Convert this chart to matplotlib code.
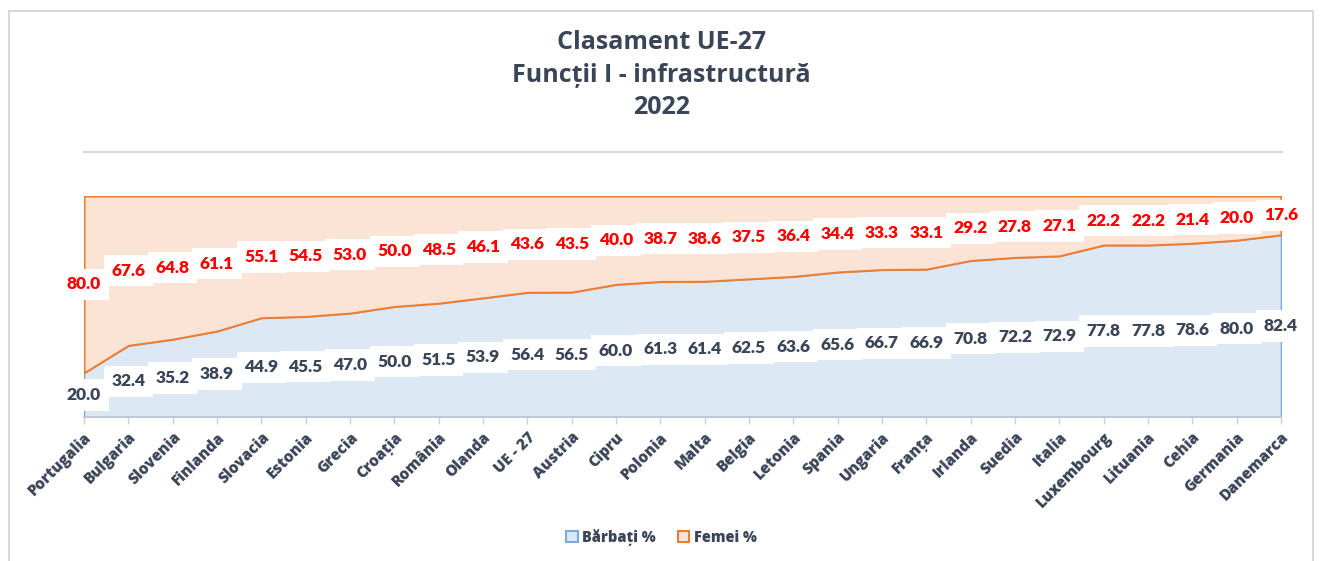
import matplotlib
matplotlib.use("Agg")
import matplotlib.pyplot as plt
from matplotlib.patches import Rectangle, Patch
from matplotlib.lines import Line2D

tari = ["Portugalia", "Bulgaria", "Slovenia", "Finlanda", "Slovacia", "Estonia",
        "Grecia", "Croația", "România", "Olanda", "UE - 27", "Austria", "Cipru",
        "Polonia", "Malta", "Belgia", "Letonia", "Spania", "Ungaria", "Franța",
        "Irlanda", "Suedia", "Italia", "Luxembourg", "Lituania", "Cehia",
        "Germania", "Danemarca"]
barbati = [20.0, 32.4, 35.2, 38.9, 44.9, 45.5, 47.0, 50.0, 51.5, 53.9, 56.4, 56.5,
           60.0, 61.3, 61.4, 62.5, 63.6, 65.6, 66.7, 66.9, 70.8, 72.2, 72.9, 77.8,
           77.8, 78.6, 80.0, 82.4]
femei = [80.0, 67.6, 64.8, 61.1, 55.1, 54.5, 53.0, 50.0, 48.5, 46.1, 43.6, 43.5,
         40.0, 38.7, 38.6, 37.5, 36.4, 34.4, 33.3, 33.1, 29.2, 27.8, 27.1, 22.2,
         22.2, 21.4, 20.0, 17.6]

text_col = "#3a4558"
blue_fill, blue_edge = "#dde8f5", "#7ea8da"
orange_fill, orange_edge = "#fbe4d6", "#ed7d31"

fig = plt.figure(figsize=(13.23, 5.61), dpi=100)

# chart frame and title separator
fig.patches.append(Rectangle((9 / 1323, -0.05), (1313 - 9) / 1323, 1.05 - 11 / 561,
                             transform=fig.transFigure, fill=False,
                             edgecolor="#d9d9d9", lw=1.5))
fig.lines.append(Line2D([84 / 1323, 1282 / 1323], [1 - 152 / 561] * 2,
                        transform=fig.transFigure, color="#d9d9d9", lw=1.5))

fig.text(0.5, 1 - 75 / 561, "Clasament UE-27\nFuncții I - infrastructură\n2022",
         ha="center", va="center", fontsize=18, fontweight=700,
         color=text_col, family="Open Sans", linespacing=1.38)

ax = fig.add_axes([84 / 1323, 1 - 417 / 561, (1281 - 84) / 1323, (417 - 196) / 561])
x = list(range(len(tari)))
top = [b + f for b, f in zip(barbati, femei)]

ax.fill_between(x, 0, barbati, facecolor=blue_fill, edgecolor=blue_edge, lw=1.2)
ax.fill_between(x, barbati, top, facecolor=orange_fill, edgecolor=orange_edge, lw=1.5)

for i in x:
    ax.text(i, barbati[i] / 2, f"{barbati[i]:.1f}", ha="center", va="center",
            fontsize=12.5, fontweight=800, color=text_col, family="Lato",
            bbox=dict(facecolor="white", edgecolor="none", pad=5.5))
    ax.text(i, barbati[i] + femei[i] / 2, f"{femei[i]:.1f}", ha="center", va="center",
            fontsize=12.5, fontweight=800, color="#ff0000", family="Lato",
            bbox=dict(facecolor="white", edgecolor="none", pad=5.5))

ax.set_xlim(0, len(tari) - 1)
ax.set_ylim(0, 100)
ax.set_yticks([])
for s in ["top", "right", "left"]:
    ax.spines[s].set_visible(False)
ax.spines["bottom"].set_color("#bfc9d6")
ax.spines["bottom"].set_linewidth(1.5)
ax.spines["bottom"].set_zorder(5)
ax.set_xticks(x)
ax.set_xticklabels(tari, rotation=45, ha="right", rotation_mode="anchor",
                   fontsize=11, fontweight=800, color=text_col, family="Open Sans")
ax.tick_params(axis="x", length=5, width=1, color="#d0d0d0", pad=4)
ax.patch.set_visible(False)

handles = [Patch(facecolor=blue_fill, edgecolor=blue_edge, lw=1.5, label="Bărbați %"),
           Patch(facecolor=orange_fill, edgecolor=orange_edge, lw=1.5, label="Femei %")]
fig.legend(handles=handles, loc="center", bbox_to_anchor=(0.5, 1 - 537 / 561),
           ncol=2, frameon=False, handlelength=0.8, handleheight=0.8,
           handletextpad=0.3, columnspacing=1.5,
           prop=dict(family="Open Sans", weight=800, size=10.5),
           labelcolor=text_col)

fig.savefig("out.png", dpi=100)
